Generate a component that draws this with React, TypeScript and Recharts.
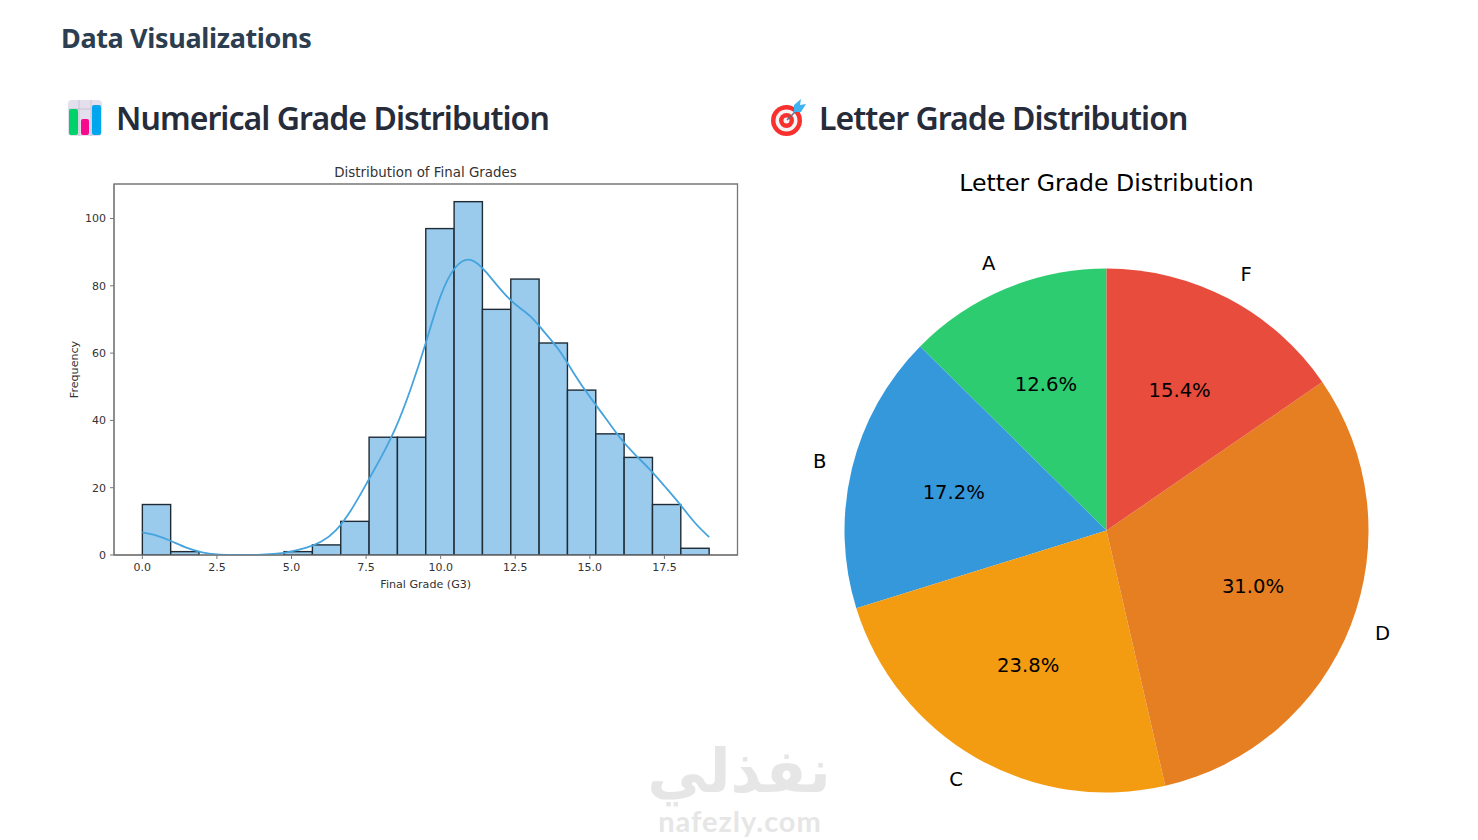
import { Bar, ComposedChart, Line, Pie, PieChart, ReferenceArea, XAxis, YAxis, Label, Cell } from "recharts";

// histogram bins (bin width 0.95)
const binCenters = [0.475, 1.425, 2.375, 3.325, 4.275, 5.225, 6.175, 7.125, 8.075, 9.025, 9.975, 10.925, 11.875, 12.825, 13.775, 14.725, 15.675, 16.625, 17.575, 18.525];
const binCounts = [15, 1, 0, 0, 0, 1, 3, 10, 35, 35, 97, 105, 73, 82, 63, 49, 36, 29, 15, 2];

// kde curve
const kdeX = [0, 0.5, 1, 1.5, 2, 2.5, 3, 3.5, 4, 4.5, 5, 5.5, 6, 6.5, 7, 7.5, 8, 8.5, 9, 9.5, 10, 10.5, 11, 11.5, 12, 12.5, 13, 13.5, 14, 14.5, 15, 15.5, 16, 16.5, 17, 17.5, 18, 18.5, 19];
const kdeY = [6.7, 5.7, 4, 2.1, 0.8, 0.2, 0.03, 0, 0.1, 0.4, 1.1, 2.2, 4, 7.5, 13.4, 21, 29, 38, 49.5, 63, 77, 85.5, 87.7, 84.3, 79, 74.5, 71, 66, 60.5, 53.5, 47, 41, 35, 30, 25.5, 20.5, 15.3, 9.8, 5.3];

const xTicks = [0, 2.5, 5, 7.5, 10, 12.5, 15, 17.5];
const yTicks = [0, 20, 40, 60, 80, 100];

const gradeNames = ["A", "B", "C", "D", "F"];
const gradeShares = [12.6, 17.2, 23.8, 31.0, 15.4];
const gradeColors = ["#2ecc71", "#3498db", "#f39c12", "#e67e22", "#e74c3c"];

const histRows = [
  ...binCenters.map((x, i) => ({ x, count: binCounts[i] })),
  ...kdeX.map((x, i) => ({ x, kde: kdeY[i] })),
].sort((a, b) => a.x - b.x);

const gradeRows = gradeNames.map((name, i) => ({ name, value: gradeShares[i] }));

const RAD = Math.PI / 180;
const BIN_PX = 28.3;
const MPL_FONT = "'DejaVu Sans', sans-serif";
const HEAD_FONT = "'Noto Sans', sans-serif";

// the kde rows shrink the band, so each bar is widened back to a full bin
function BinBar(props: any) {
  const { x, y, width, height, fill, stroke, strokeWidth, payload } = props;
  if (payload == null || payload.count == null) return null;
  return (
    <rect
      x={x + width / 2 - BIN_PX / 2}
      y={y}
      width={BIN_PX}
      height={height}
      fill={fill}
      stroke={stroke}
      strokeWidth={strokeWidth}
    />
  );
}

function renderGradeLabel(props: any) {
  const { cx, cy, midAngle, outerRadius, name, value } = props;
  const c = Math.cos(-midAngle * RAD);
  const s = Math.sin(-midAngle * RAD);
  return (
    <g style={{ fontFamily: MPL_FONT, fontSize: 19.6 }}>
      <text
        x={cx + outerRadius * 1.1 * c}
        y={cy + outerRadius * 1.1 * s - 1}
        textAnchor={c < 0 ? "end" : "start"}
        dominantBaseline="central"
        fill="#000"
      >
        {name}
      </text>
      <text
        x={cx + outerRadius * 0.6 * c}
        y={cy + outerRadius * 0.6 * s - 1}
        textAnchor="middle"
        dominantBaseline="central"
        fill="#000"
      >
        {`${value.toFixed(1)}%`}
      </text>
    </g>
  );
}

function Heading({ left, top, size, weight, spacing, color, children }: any) {
  return (
    <div
      style={{
        position: "absolute",
        left,
        top,
        fontFamily: HEAD_FONT,
        fontSize: size,
        fontWeight: weight,
        letterSpacing: spacing,
        color,
        whiteSpace: "nowrap",
        lineHeight: 1,
      }}
    >
      {children}
    </div>
  );
}

function BarsIcon() {
  return (
    <svg width="36" height="36" viewBox="0 0 36 36" style={{ position: "absolute", left: 67, top: 100 }}>
      <rect x="1" y="0" width="34" height="36" rx="4" fill="#e3dfec" />
      <path d="M1 9H35M12 0V36M24 0V36" stroke="#c9c4d6" strokeWidth="1" />
      <rect x="2" y="9" width="9" height="26" rx="2" fill="#00d26a" />
      <rect x="14" y="19" width="8" height="16" rx="2" fill="#f70a8d" />
      <rect x="25" y="5" width="9" height="30" rx="2" fill="#00a6ed" />
    </svg>
  );
}

function TargetIcon() {
  return (
    <svg width="38" height="38" viewBox="0 0 38 38" style={{ position: "absolute", left: 770, top: 99 }}>
      <circle cx="16.5" cy="21.5" r="15.5" fill="#f8312f" />
      <circle cx="16.5" cy="21.5" r="11" fill="#f4f4f4" />
      <circle cx="16.5" cy="21.5" r="7.5" fill="#f8312f" />
      <circle cx="16.5" cy="21.5" r="3" fill="#f4f4f4" />
      <path d="M17 21L29 9" stroke="#5f6f7f" strokeWidth="1.5" />
      <path d="M24 6L31 0L30 6L36 5L31 13L24 13Z" fill="#3fb4f0" />
    </svg>
  );
}

export default function App() {
  return (
    <div style={{ position: "absolute", left: 0, top: 0, width: 1478, height: 840, background: "#fff", overflow: "hidden" }}>
      <Heading left={61} top={24} size={27} weight={700} spacing={-0.35} color="#2c3e50">Data Visualizations</Heading>

      <BarsIcon />
      <Heading left={116} top={102} size={32} weight={600} spacing={-0.95} color="#262c3a">Numerical Grade Distribution</Heading>
      <TargetIcon />
      <Heading left={819} top={102} size={32} weight={600} spacing={-0.95} color="#262c3a">Letter Grade Distribution</Heading>

      <div style={{ position: "absolute", left: 114, width: 623, top: 164, textAlign: "center", fontFamily: MPL_FONT, fontSize: 13.4, lineHeight: "17px", color: "#333" }}>
        Distribution of Final Grades
      </div>

      <div style={{ position: "absolute", left: 60, top: 160 }}>
        <ComposedChart
          width={680}
          height={440}
          data={histRows}
          margin={{ top: 24, right: 2.5, bottom: 15, left: 0 }}
        >
          <XAxis
            dataKey="x"
            type="number"
            domain={[-0.95, 19.95]}
            ticks={xTicks}
            allowDataOverflow
            tickFormatter={(v) => Number(v).toFixed(1)}
            tick={{ fill: "#333", fontSize: 11, fontFamily: MPL_FONT }}
            tickSize={4}
            tickMargin={4}
            stroke="#777"
            height={30}
          >
            <Label value="Final Grade (G3)" position="insideBottom" offset={-3} style={{ fill: "#333", fontSize: 11.1, fontFamily: MPL_FONT }} />
          </XAxis>
          <YAxis
            type="number"
            domain={[0, 110.25]}
            ticks={yTicks}
            allowDataOverflow
            tick={{ fill: "#333", fontSize: 11, fontFamily: MPL_FONT }}
            tickSize={4}
            tickMargin={4}
            stroke="#777"
            width={54}
          >
            <Label value="Frequency" angle={-90} position="insideLeft" offset={14} style={{ fill: "#333", fontSize: 11.1, fontFamily: MPL_FONT, textAnchor: "middle" }} />
          </YAxis>
          <ReferenceArea x1={-0.95} x2={19.95} y1={0} y2={110.25} fill="none" stroke="#777" strokeWidth={1.3} />
          <Bar dataKey="count" fill="#9acbed" stroke="#1f2c36" strokeWidth={1.4} shape={BinBar} isAnimationActive={false} />
          <Line dataKey="kde" type="natural" stroke="#45a3de" strokeWidth={1.8} dot={false} connectNulls isAnimationActive={false} />
        </ComposedChart>
      </div>

      <div style={{ position: "absolute", left: 780, width: 653, top: 168, textAlign: "center", fontFamily: MPL_FONT, fontSize: 23.6, lineHeight: "30px", color: "#000" }}>
        Letter Grade Distribution
      </div>

      <div style={{ position: "absolute", left: 780, top: 160 }}>
        <PieChart width={660} height={660} margin={{ top: 0, right: 0, bottom: 0, left: 0 }}>
          <Pie
            data={gradeRows}
            dataKey="value"
            nameKey="name"
            cx={326.5}
            cy={370.5}
            outerRadius={262}
            startAngle={90}
            endAngle={450}
            stroke="none"
            label={renderGradeLabel}
            labelLine={false}
            isAnimationActive={false}
          >
            {gradeRows.map((row, i) => (
              <Cell key={row.name} fill={gradeColors[i]} />
            ))}
          </Pie>
        </PieChart>
      </div>

      <div style={{ position: "absolute", left: 640, width: 198, top: 736, textAlign: "center", fontFamily: "'DejaVu Sans', sans-serif", fontWeight: 700, fontSize: 60, lineHeight: "70px", color: "#e6e6e6" }}>
        نفذلي
      </div>
      <div style={{ position: "absolute", left: 640, width: 200, top: 805, textAlign: "center", fontFamily: "Lato, sans-serif", fontWeight: 700, fontSize: 29, lineHeight: "32px", letterSpacing: 1, color: "#e6e6e6" }}>
        nafezly.com
      </div>
    </div>
  );
}
